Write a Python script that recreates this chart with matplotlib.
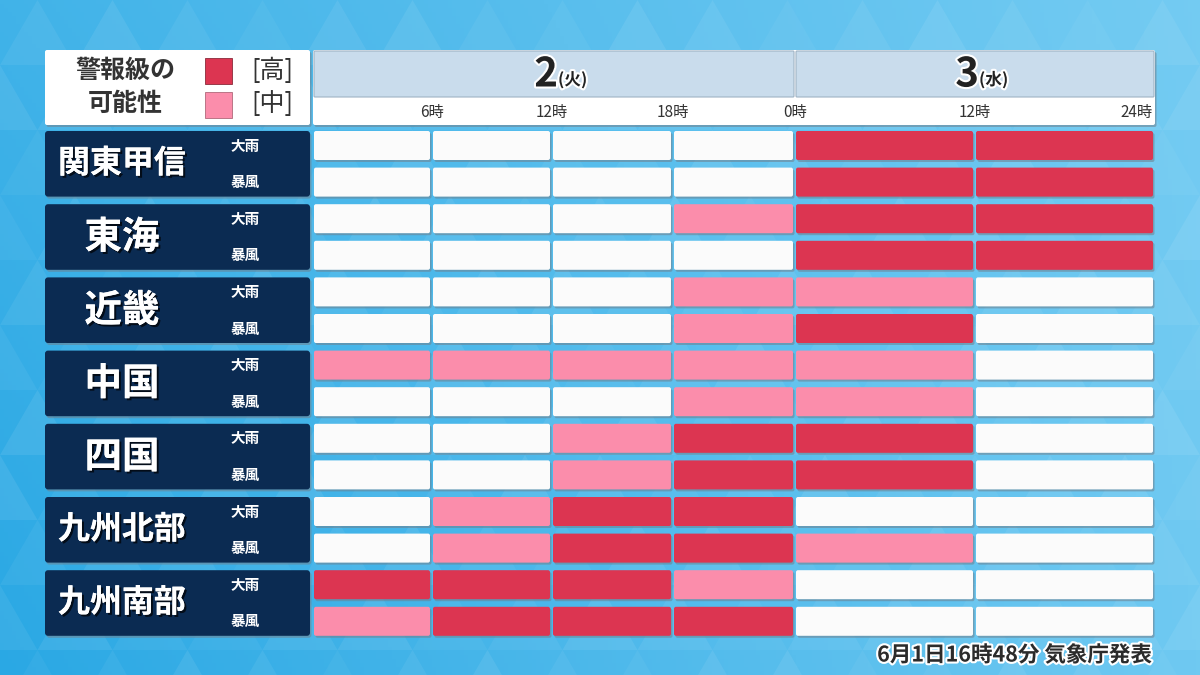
import numpy as np
import matplotlib
matplotlib.use("Agg")
import matplotlib.pyplot as plt
from matplotlib.patches import FancyBboxPatch, Rectangle, Polygon
import matplotlib.patheffects as pe

plt.rcParams['font.family'] = ['Noto Sans CJK JP', 'DejaVu Sans']

# データ: 0 = なし, 1 = 中, 2 = 高
regions = ['関東甲信', '東海', '近畿', '中国', '四国', '九州北部', '九州南部']
kinds = ['大雨', '暴風']
time_labels = ['6時', '12時', '18時', '0時', '12時', '24時']
days = ['2', '3']
weekdays = ['(火)', '(水)']
heavy_rain = [
    [0, 0, 0, 0, 2, 2],
    [0, 0, 0, 1, 2, 2],
    [0, 0, 0, 1, 1, 0],
    [1, 1, 1, 1, 1, 0],
    [0, 0, 1, 2, 2, 0],
    [0, 1, 2, 2, 0, 0],
    [2, 2, 2, 1, 0, 0],
]
storm = [
    [0, 0, 0, 0, 2, 2],
    [0, 0, 0, 0, 2, 2],
    [0, 0, 0, 1, 2, 0],
    [0, 0, 0, 1, 1, 0],
    [0, 0, 1, 2, 2, 0],
    [0, 1, 2, 2, 1, 0],
    [1, 2, 2, 2, 0, 0],
]
footer = '6月1日16時48分 気象庁発表'

level_colors = {0: '#fbfbfb', 1: '#fb8dab', 2: '#dc3551'}
navy = '#0b2b52'
txt_dark = '#333333'

# レイアウト（ピクセル）
col_edges = [313, 432, 552, 673, 795, 975, 1155]
row_top0 = 131
row_pitch = 36.6
row_h = 29
gap = 2

fig = plt.figure(figsize=(12, 6.75), dpi=100)
ax = fig.add_axes([0, 0, 1, 1])
ax.set_xlim(0, 1200)
ax.set_ylim(675, 0)
ax.axis('off')

# 背景グラデーション
gx, gy = np.meshgrid(np.linspace(0, 1, 300), np.linspace(0, 1, 170))
t = np.clip(0.55 * gx + 0.25 * (1 - gy) + 0.2 * gx * gy, 0, 1)
c0 = np.array([0x2a, 0xa8, 0xe4]) / 255
c1 = np.array([0x86, 0xd4, 0xf6]) / 255
bg = c0[None, None, :] * (1 - t[..., None]) + c1[None, None, :] * t[..., None]
ax.imshow(bg, extent=[0, 1200, 675, 0], aspect='auto', zorder=0)

# 三角形の模様
tw, th = 75, 65
for j in range(-1, 12):
    for i in range(-1, 18):
        x0 = i * tw + (tw / 2 if j % 2 else 0)
        y0 = j * th
        a = 0.04 + 0.04 * (np.sin(i * 1.7 + j * 2.3) + 1) / 2
        ax.add_patch(Polygon([[x0, y0 + th], [x0 + tw / 2, y0], [x0 + tw, y0 + th]],
                             closed=True, color='white', alpha=a, lw=0, zorder=0.5))

outline_w = [pe.withStroke(linewidth=3, foreground='white')]


def box(x0, y0, x1, y1, color, z=2, shadow=True, r=2):
    if shadow:
        ax.add_patch(FancyBboxPatch((x0 + 1.5, y0 + 2), x1 - x0, y1 - y0,
                                    boxstyle=f'round,pad=0,rounding_size={r}',
                                    fc='#6f7f8c', ec='none', alpha=0.55, zorder=z - 0.1))
    ax.add_patch(FancyBboxPatch((x0, y0), x1 - x0, y1 - y0,
                                boxstyle=f'round,pad=0,rounding_size={r}',
                                fc=color, ec='none', zorder=z))


# 凡例ボックス
box(45, 50, 310, 125, 'white')
ax.text(125, 71, '警報級の', ha='center', va='center', fontsize=18, fontweight='bold', color=txt_dark, zorder=5)
ax.text(125, 104, '可能性', ha='center', va='center', fontsize=18, fontweight='bold', color=txt_dark, zorder=5)
ax.add_patch(Rectangle((205, 58), 27, 26, fc=level_colors[2], ec='#8a2a3a', lw=0.6, zorder=5))
ax.add_patch(Rectangle((205, 92), 27, 26, fc=level_colors[1], ec='#b0687a', lw=0.6, zorder=5))
ax.text(272, 71, '[高]', ha='center', va='center', fontsize=18, color=txt_dark, zorder=5)
ax.text(272, 104, '[中]', ha='center', va='center', fontsize=18, color=txt_dark, zorder=5)

# ヘッダー
day_spans = [(col_edges[0], col_edges[4]), (col_edges[4], col_edges[6])]
box(col_edges[0], 50, col_edges[6], 125, 'white')
for k, (xa, xb) in enumerate(day_spans):
    ax.add_patch(FancyBboxPatch((xa + 1, 51), xb - xa - 2, 46,
                                boxstyle='round,pad=0,rounding_size=1',
                                fc='#c9dcec', ec='#9fb3c4', lw=0.8, zorder=3))
    xc = (xa + xb) / 2
    ax.text(xc + 4, 75, days[k], ha='right', va='center', fontsize=29, fontweight='bold',
            color='#222222', path_effects=outline_w, zorder=5)
    ax.text(xc + 4, 80, weekdays[k], ha='left', va='center', fontsize=12, fontweight='bold',
            color='#222222', path_effects=outline_w, zorder=5)
for k, lab in enumerate(time_labels):
    xe = col_edges[k + 1]
    if k == len(time_labels) - 1:
        ax.text(xe - 2, 112, lab, ha='right', va='center', fontsize=11, color=txt_dark, zorder=5)
    else:
        ax.text(xe, 112, lab, ha='center', va='center', fontsize=11, color=txt_dark, zorder=5)

# 各地域
for r, name in enumerate(regions):
    y_a = row_top0 + 2 * r * row_pitch
    y_b = y_a + row_pitch + row_h
    box(45, y_a, 310, y_b, navy, r=3)
    fs = 23 if len(name) > 2 else 27
    ax.text(122, (y_a + y_b) / 2, name, ha='center', va='center', fontsize=fs, fontweight='bold',
            color='white', path_effects=[pe.withSimplePatchShadow(offset=(1.5, -1.5), shadow_rgbFace='#000000', alpha=0.7),
                                         pe.Normal()], zorder=5)
    for s, (kind, series) in enumerate(zip(kinds, [heavy_rain, storm])):
        y0 = y_a + s * row_pitch
        ax.text(245, y0 + row_h / 2, kind, ha='center', va='center', fontsize=10.5, fontweight='bold',
                color='white', zorder=5)
        for c, lvl in enumerate(series[r]):
            box(col_edges[c] + 1, y0, col_edges[c + 1] - gap, y0 + row_h, level_colors[lvl], r=2)

# 発表時刻
ax.text(1152, 655, footer, ha='right', va='center', fontsize=15.5, fontweight='bold',
        color='#2b2b2b', path_effects=[pe.withStroke(linewidth=3, foreground='white')], zorder=5)

fig.savefig('out.png', dpi=100)
